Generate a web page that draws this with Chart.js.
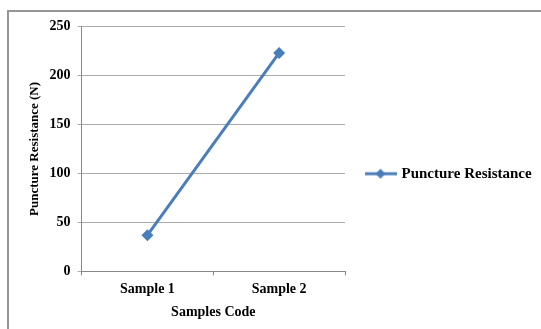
<!DOCTYPE html>
<html>
<head>
<meta charset="utf-8">
<script src="https://cdn.jsdelivr.net/npm/chart.js@4/dist/chart.umd.min.js"></script>
<style>
  html, body { margin: 0; padding: 0; background: #ffffff; }
  #wrap { position: relative; width: 541px; height: 329px; overflow: hidden; }
  #frame { position: absolute; left: 7px; top: 10px; width: 600px; height: 400px;
           border-left: 2px solid #959595; border-top: 2px solid #959595; box-sizing: border-box; }
  canvas { position: absolute; left: 0; top: 0; }
</style>
</head>
<body>
<div id="wrap">
  <div id="frame"></div>
  <canvas id="chart" width="541" height="329"></canvas>
</div>
<script>
// Puncture resistance per sample
const categories = ['Sample 1', 'Sample 2'];
const punctureValues = [37, 223];
const seriesName = 'Puncture Resistance';
const yTitle = 'Puncture Resistance (N)';
const xTitle = 'Samples Code';

const blue = '#4a7ebb';
const serif = '"Liberation Serif", "Times New Roman", serif';

// legend symbol: short line with a diamond marker
function legendSymbol() {
  const c = document.createElement('canvas');
  c.width = 32; c.height = 14;
  const g = c.getContext('2d');
  g.strokeStyle = blue; g.lineWidth = 3;
  g.beginPath(); g.moveTo(0, 7); g.lineTo(32, 7); g.stroke();
  g.fillStyle = blue;
  g.beginPath(); g.moveTo(16, 2); g.lineTo(21, 7); g.lineTo(16, 12); g.lineTo(11, 7); g.closePath(); g.fill();
  return c;
}
const symbol = legendSymbol();

new Chart(document.getElementById('chart'), {
  type: 'line',
  data: {
    labels: categories,
    datasets: [{
      label: seriesName,
      data: punctureValues,
      borderColor: blue,
      backgroundColor: blue,
      borderWidth: 3,
      pointStyle: 'rectRot',
      pointRadius: 6,
      pointBorderWidth: 0,
      tension: 0
    }]
  },
  options: {
    responsive: false,
    animation: false,
    layout: { padding: { left: 27, top: 26.5, bottom: 8, right: 2 } },
    plugins: {
      tooltip: { enabled: false },
      legend: {
        position: 'right',
        maxWidth: 194,
        labels: {
          usePointStyle: true,
          pointStyleWidth: 27,
          padding: 22,
          color: '#000000',
          font: { family: serif, size: 15, weight: 'bold' },
          generateLabels(chart) {
            const items = Chart.defaults.plugins.legend.labels.generateLabels(chart);
            items.forEach(it => { it.pointStyle = symbol; });
            return items;
          }
        }
      }
    },
    scales: {
      x: {
        offset: true,
        grid: { offset: true, drawOnChartArea: false, drawTicks: true, tickLength: 4, color: '#888888' },
        border: { color: '#888888', width: 1 },
        ticks: { color: '#000000', padding: 6, font: { family: serif, size: 14, weight: 'bold' } },
        title: { display: true, text: xTitle, color: '#000000', padding: { top: 0, bottom: 0 },
                 font: { family: serif, size: 14, weight: 'bold' } }
      },
      y: {
        min: 0, max: 250,
        grid: { color: '#ababab', tickLength: 4 },
        border: { color: '#888888', width: 1 },
        ticks: { stepSize: 50, color: '#000000', padding: 7, font: { family: serif, size: 14, weight: 'bold' } },
        title: { display: true, text: yTitle, color: '#000000', padding: { top: 0, bottom: 0 },
                 font: { family: serif, size: 13, weight: 'bold' } }
      }
    }
  }
});
</script>
</body>
</html>
